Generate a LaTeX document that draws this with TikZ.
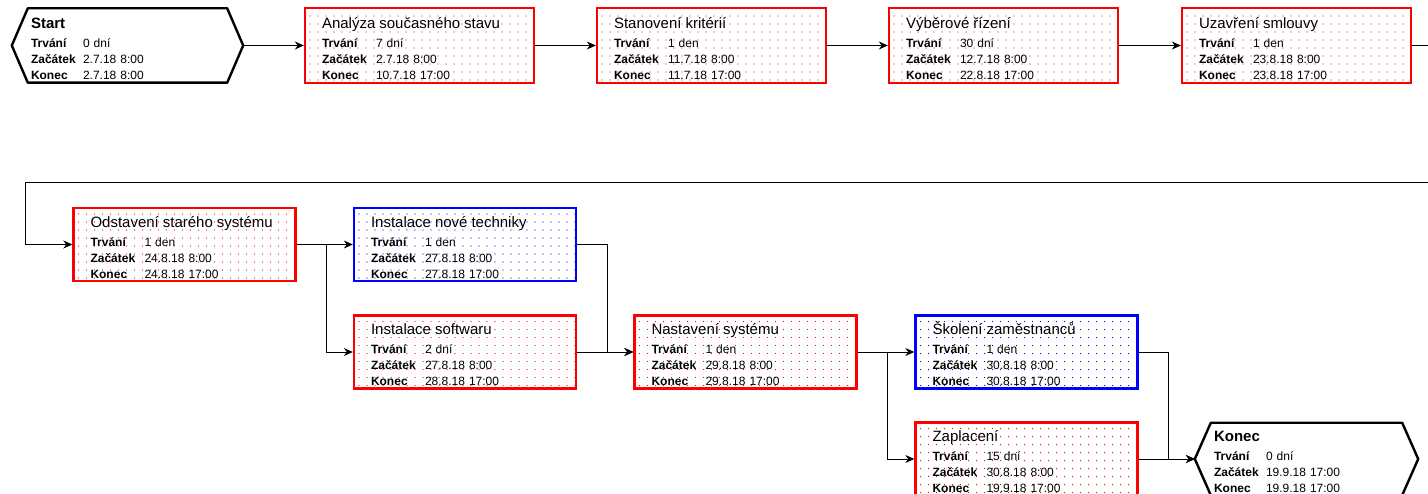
\documentclass[tikz,border=0pt]{standalone}
\usepackage{fontspec}
\setmainfont{Liberation Sans}
\usetikzlibrary{arrows.meta}

\newcommand{\ukol}[4]{\rule{0pt}{17pt}{\fontsize{15}{18}\selectfont #1}\\[3pt]
\makebox[54pt][l]{\textbf{Trvání}}#2\\
\makebox[54pt][l]{\textbf{Začátek}}#3\\
\makebox[54pt][l]{\textbf{Konec}}#4}

\tikzset{
  tecky/.style={path picture={
    \foreach \dx in {5,13,...,229} \foreach \dy in {3,11,...,75}
      \fill[#1] ([shift={(\dx pt,\dy pt)}]path picture bounding box.south west) circle (0.55pt);}},
  ukolbox/.style={line width=2.4pt, minimum height=75pt, minimum width=229pt,
    text width=195pt, inner xsep=17pt, inner ysep=0pt, align=left,
    font=\fontsize{12}{16}\selectfont},
  kriticky/.style={ukolbox, draw=red, tecky=red},
  rezerva/.style={ukolbox, draw=blue, tecky=blue},
  maly/.style={minimum width=222pt, minimum height=73pt, text width=188pt},
  milnik/.style={minimum width=231pt, minimum height=74pt, text width=193pt,
    inner xsep=19pt, inner ysep=0pt, align=left, font=\fontsize{12}{16}\selectfont},
  hexa/.style={draw=black, line width=2.4pt, line join=round},
  sipka/.style={draw=black, line width=0.8pt, -{Stealth[length=9pt,width=8pt,inset=3pt]}}
}

\begin{document}
\begin{tikzpicture}[x=1pt,y=-1pt]
\useasboundingbox (0,0) rectangle (1428,494);

\node[milnik] (start) at (127.5,45.5) {\rule{0pt}{17pt}{\fontsize{15}{18}\selectfont\textbf{Start}}\\[3pt]
\makebox[52pt][l]{\textbf{Trvání}}0 dní\\
\makebox[52pt][l]{\textbf{Začátek}}2.7.18 8:00\\
\makebox[52pt][l]{\textbf{Konec}}2.7.18 8:00};
\draw[hexa] (start.west) -- ([xshift=16pt]start.north west) -- ([xshift=-16pt]start.north east)
  -- (start.east) -- ([xshift=-16pt]start.south east) -- ([xshift=16pt]start.south west) -- cycle;

\node[kriticky] (analyza) at (419.5,45.5) {\ukol{Analýza současného stavu}{7 dní}{2.7.18 8:00}{10.7.18 17:00}};
\node[kriticky] (kriteria) at (711.5,45.5) {\ukol{Stanovení kritérií}{1 den}{11.7.18 8:00}{11.7.18 17:00}};
\node[kriticky] (rizeni) at (1003.5,45.5) {\ukol{Výběrové řízení}{30 dní}{12.7.18 8:00}{22.8.18 17:00}};
\node[kriticky] (smlouva) at (1296.5,45.5) {\ukol{Uzavření smlouvy}{1 den}{23.8.18 8:00}{23.8.18 17:00}};

\node[kriticky,maly] (odstaveni) at (184.5,244.5) {\ukol{Odstavení starého systému}{1 den}{24.8.18 8:00}{24.8.18 17:00}};
\node[rezerva,maly] (technika) at (465,244.5) {\ukol{Instalace nové techniky}{1 den}{27.8.18 8:00}{27.8.18 17:00}};
\node[kriticky,maly] (software) at (465,352) {\ukol{Instalace softwaru}{2 dní}{27.8.18 8:00}{28.8.18 17:00}};
\node[kriticky,maly] (nastaveni) at (745.5,352) {\ukol{Nastavení systému}{1 den}{29.8.18 8:00}{29.8.18 17:00}};
\node[rezerva,maly] (skoleni) at (1026.5,352) {\ukol{Školení zaměstnanců}{1 den}{30.8.18 8:00}{30.8.18 17:00}};
\node[kriticky,maly] (zaplaceni) at (1026.5,459) {\ukol{Zaplacení}{15 dní}{30.8.18 8:00}{19.9.18 17:00}};

\node[milnik,minimum width=223pt,minimum height=72pt,text width=185pt] (konec) at (1306.5,459) {\rule{0pt}{17pt}{\fontsize{15}{18}\selectfont\textbf{Konec}}\\[3pt]
\makebox[52pt][l]{\textbf{Trvání}}0 dní\\
\makebox[52pt][l]{\textbf{Začátek}}19.9.18 17:00\\
\makebox[52pt][l]{\textbf{Konec}}19.9.18 17:00};
\draw[hexa] (konec.west) -- ([xshift=16pt]konec.north west) -- ([xshift=-16pt]konec.north east)
  -- (konec.east) -- ([xshift=-16pt]konec.south east) -- ([xshift=16pt]konec.south west) -- cycle;

\coordinate (zpetP) at (1440,182);
\coordinate (zpetL) at (25,182);

\draw[sipka] (start.east) -- (analyza.west);
\draw[sipka] (analyza.east) -- (kriteria.west);
\draw[sipka] (kriteria.east) -- (rizeni.west);
\draw[sipka] (rizeni.east) -- (smlouva.west);
\draw[sipka] (smlouva.east) -| (zpetP) -- (zpetL) |- (odstaveni.west);

\draw[sipka] (odstaveni.east) -- (technika.west);
\draw[sipka] (odstaveni.east) -- ++(30,0) |- (software.west);
\draw[sipka] (technika.east) -- ++(30,0) |- (nastaveni.west);
\draw[sipka] (software.east) -- (nastaveni.west);
\draw[sipka] (nastaveni.east) -- (skoleni.west);
\draw[sipka] (nastaveni.east) -- ++(30,0) |- (zaplaceni.west);
\draw[sipka] (skoleni.east) -- ++(30,0) |- (konec.west);
\draw[sipka] (zaplaceni.east) -- (konec.west);
\end{tikzpicture}
\end{document}
